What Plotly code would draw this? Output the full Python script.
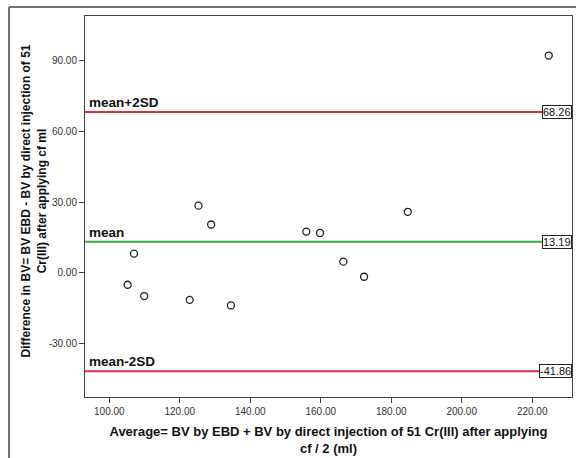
import plotly.graph_objects as go

avg_x = [105.2, 107.0, 109.9, 122.8, 125.3, 128.9, 134.5, 155.9, 159.8, 166.4, 172.3, 184.7, 224.7]
diff_y = [-5.1, 8.1, -9.9, -11.5, 28.5, 20.5, -13.9, 17.5, 16.9, 4.7, -1.7, 25.9, 92.3]

ref_names = ["mean+2SD", "mean", "mean-2SD"]
ref_values = [68.26, 13.19, -41.86]
ref_colors = ["#d9303f", "#3aaa48", "#d9303f"]

x_ticks = [100, 120, 140, 160, 180, 200, 220]
y_ticks = [-30, 0, 30, 60, 90]

FONT = "Arial, 'Liberation Sans', sans-serif"

fig = go.Figure()

for name, val, col in zip(ref_names, ref_values, ref_colors):
    fig.add_shape(type="line", xref="paper", x0=0, x1=1, yref="y", y0=val, y1=val,
                  line=dict(color=col, width=2), layer="below")
    fig.add_annotation(xref="paper", x=0.004, yref="y", y=val, text="<b>%s</b>" % name,
                       showarrow=False, xanchor="left", yanchor="bottom",
                       font=dict(family=FONT, size=13.5, color="#111"))
    fig.add_annotation(xref="paper", x=1, yref="y", y=val, text="%.2f" % val,
                       showarrow=False, xanchor="right", yanchor="middle",
                       bgcolor="white", bordercolor="#222", borderwidth=1, borderpad=0,
                       font=dict(family=FONT, size=11, color="#111"))

fig.add_trace(go.Scatter(x=avg_x, y=diff_y, mode="markers",
                         marker=dict(symbol="circle-open", size=7, color="#222",
                                     line=dict(width=1.3, color="#222")),
                         showlegend=False, hoverinfo="skip"))

# outer frame (left and top edges)
fig.add_shape(type="line", xref="paper", yref="paper", x0=-0.156, x1=-0.156, y0=-0.2, y1=1.0236,
              line=dict(color="#444", width=1.5))
fig.add_shape(type="line", xref="paper", yref="paper", x0=-0.156, x1=1.05, y0=1.0236, y1=1.0236,
              line=dict(color="#444", width=1.5))

# y-axis title as rotated annotation
fig.add_annotation(xref="paper", yref="paper", x=-0.104, y=0.514, textangle=-90,
                   text="<b>Difference in BV= BV EBD - BV by direct injection of 51<br>Cr(III) after applying cf ml</b>",
                   showarrow=False, xanchor="center", yanchor="middle",
                   font=dict(family=FONT, size=12, color="#111"))

fig.update_layout(
    width=576, height=458,
    margin=dict(l=85, r=4, t=16, b=61),
    paper_bgcolor="white", plot_bgcolor="white",
    font=dict(family=FONT, color="#222"),
    xaxis=dict(range=[93.1, 231.3], tickvals=x_ticks,
               ticktext=["%.2f" % v for v in x_ticks],
               showgrid=False, zeroline=False, showline=True, linecolor="#444", linewidth=1,
               mirror=True, ticks="outside", ticklen=5, tickcolor="#444",
               tickfont=dict(size=10, color="#333"), automargin=False,
               title=dict(text="<b>Average= BV by EBD + BV by direct injection of 51 Cr(III) after applying<br>cf / 2 (ml)</b>",
                          font=dict(size=13, color="#111"), standoff=10)),
    yaxis=dict(range=[-52.8, 109.1], tickvals=y_ticks,
               ticktext=["%.2f" % v for v in y_ticks],
               showgrid=False, zeroline=False, showline=True, linecolor="#444", linewidth=1,
               mirror=True, ticks="outside", ticklen=5, tickcolor="#444",
               tickfont=dict(size=10, color="#333"), automargin=False),
)

fig.write_html("out.html", config={"displayModeBar": False},
               post_script="document.body.style.margin='0';document.body.style.overflow='hidden';")
